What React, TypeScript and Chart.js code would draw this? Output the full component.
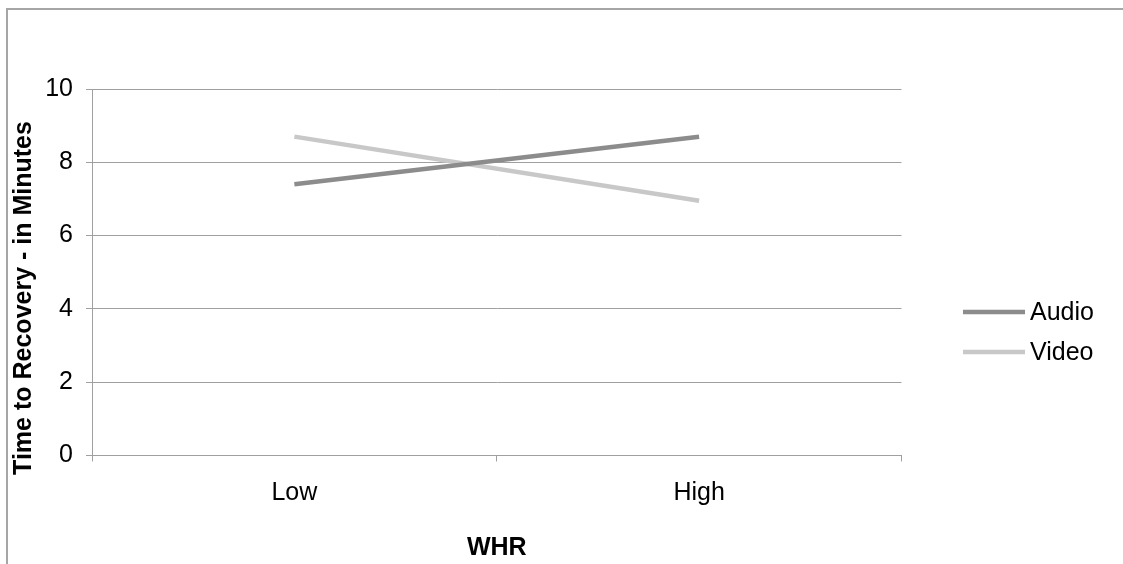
import React, { useEffect, useRef } from "react";
import { Chart, registerables } from "chart.js";

Chart.register(...registerables);

const FONT = '"Liberation Sans", Arial, sans-serif';

const categories = ["Low", "High"];
const audioValues = [7.4, 8.7];
const videoValues = [8.7, 6.95];
const seriesNames = ["Audio", "Video"];
const seriesColors = ["#8c8c8c", "#c8c8c8"];
const yMin = 0;
const yMax = 10;
const yStep = 2;
const xTitle = "WHR";
const yTitle = "Time to Recovery - in Minutes";

const overlayPlugin = {
  id: "overlay",
  afterDraw(chart: any) {
    const { ctx, chartArea } = chart;
    // y-axis title
    ctx.save();
    ctx.font = `bold 25px ${FONT}`;
    ctx.fillStyle = "#000";
    ctx.textAlign = "center";
    ctx.textBaseline = "middle";
    ctx.translate(chartArea.left - 67.5, chartArea.top + 209);
    ctx.rotate(-Math.PI / 2);
    ctx.fillText(yTitle, 0, 0);
    ctx.restore();
    // legend
    chart.data.datasets.forEach((ds: any, i: number) => {
      const y = chartArea.top + 223 + i * 40;
      ctx.save();
      ctx.strokeStyle = ds.borderColor;
      ctx.lineWidth = 4.5;
      ctx.lineCap = "butt";
      ctx.beginPath();
      ctx.moveTo(chartArea.right + 61.5, y);
      ctx.lineTo(chartArea.right + 123.5, y);
      ctx.stroke();
      ctx.font = `25px ${FONT}`;
      ctx.textAlign = "left";
      ctx.textBaseline = "middle";
      ctx.fillStyle = "#000";
      ctx.fillText(ds.label, chartArea.right + 128.5, y + 1);
      ctx.restore();
    });
  },
};

export default function App() {
  const canvasRef = useRef<HTMLCanvasElement | null>(null);

  useEffect(() => {
    if (!canvasRef.current) return;
    const chart = new Chart(canvasRef.current, {
      type: "line",
      data: {
        labels: categories,
        datasets: [
          {
            label: seriesNames[0],
            data: audioValues,
            borderColor: seriesColors[0],
            backgroundColor: seriesColors[0],
            borderWidth: 4.5,
            pointRadius: 0,
            tension: 0,
          },
          {
            label: seriesNames[1],
            data: videoValues,
            borderColor: seriesColors[1],
            backgroundColor: seriesColors[1],
            borderWidth: 4.5,
            pointRadius: 0,
            tension: 0,
          },
        ],
      },
      options: {
        responsive: false,
        animation: false,
        layout: { padding: { left: 0, top: 79, right: 221.5, bottom: 0 } },
        plugins: {
          legend: { display: false },
          tooltip: { enabled: false },
        },
        scales: {
          x: {
            offset: true,
            afterFit: (s: any) => {
              s.height = 108.5;
            },
            grid: {
              display: true,
              drawOnChartArea: false,
              drawTicks: true,
              tickLength: 6,
              color: "#a0a0a0",
              offset: true,
            },
            border: { display: true, color: "#a0a0a0", width: 1 },
            ticks: {
              color: "#000",
              font: { family: FONT, size: 25 },
              padding: 17,
            },
            title: {
              display: true,
              text: xTitle,
              color: "#000",
              font: { family: FONT, size: 25, weight: "bold" },
              padding: { top: 0, bottom: 1 },
            },
          },
          y: {
            min: yMin,
            max: yMax,
            afterFit: (s: any) => {
              s.width = 84;
            },
            grid: {
              color: "#a0a0a0",
              drawTicks: true,
              tickLength: 6,
            },
            border: { display: true, color: "#a0a0a0", width: 1 },
            ticks: {
              stepSize: yStep,
              color: "#000",
              font: { family: FONT, size: 25 },
              padding: 13,
            },
          },
        },
      },
      plugins: [overlayPlugin],
    });
    return () => chart.destroy();
  }, []);

  return (
    <div
      style={{
        position: "fixed",
        left: 6,
        top: 8,
        width: 1117,
        height: 556,
        overflow: "hidden",
      }}
    >
      <div
        style={{
          boxSizing: "border-box",
          width: 1117,
          height: 600,
          borderTop: "2px solid #a6a6a6",
          borderLeft: "2px solid #a6a6a6",
        }}
      >
        <canvas
          ref={canvasRef}
          width={1115}
          height={554}
          style={{ display: "block", width: 1115, height: 554 }}
        />
      </div>
    </div>
  );
}
